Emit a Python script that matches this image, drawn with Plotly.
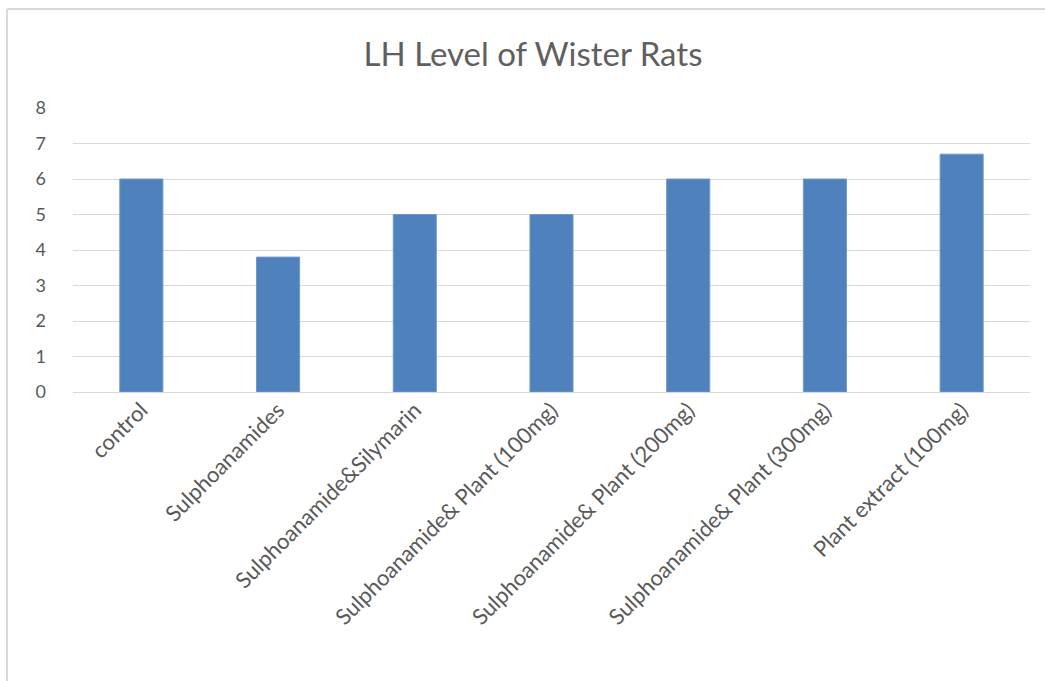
import plotly.graph_objects as go

categories = ["control", "Sulphoanamides", "Sulphoanamide&Silymarin",
              "Sulphoanamide& Plant (100mg)", "Sulphoanamide& Plant (200mg)",
              "Sulphoanamide& Plant (300mg)", "Plant extract (100mg)"]
values = [6, 3.8, 5, 5, 6, 6, 6.7]
y_ticks = [0, 1, 2, 3, 4, 5, 6, 7, 8]

W, H = 1045, 681
L, R, T, B = 73, 15, 108, 289
pw, ph = W - L - R, H - T - B

def px_x(x):
    return (x - L) / pw

def px_y(y):
    return (H - B - y) / ph

fig = go.Figure(go.Bar(
    x=categories, y=values,
    marker=dict(color="#4f81bd", line=dict(color="#6f98cc", width=1)),
    width=0.315,
))

fig.update_layout(
    width=W, height=H,
    margin=dict(l=L, r=R, t=T, b=B),
    paper_bgcolor="white", plot_bgcolor="white",
    title=dict(text="LH Level of Wister Rats", x=533 / W, xanchor="center",
               y=1 - 54 / H, yanchor="middle",
               font=dict(family="Lato", size=33, color="#5f5f5f")),
    showlegend=False,
    font=dict(family="Lato", size=22, color="#595959"),
    xaxis=dict(tickangle=-45, showgrid=False, showline=False, ticks="",
               tickfont=dict(family="Lato", size=22, color="#595959")),
    yaxis=dict(range=[0, 8], tickvals=y_ticks, showgrid=True,
               gridcolor="#d9d9d9", gridwidth=1, zeroline=True,
               zerolinecolor="#d9d9d9", zerolinewidth=1,
               ticks="", ticklabelstandoff=26,
               tickfont=dict(family="Lato", size=18, color="#595959")),
    shapes=[
        dict(type="line", xref="paper", yref="paper",
             x0=px_x(7), x1=px_x(1045), y0=px_y(9), y1=px_y(9),
             line=dict(color="#d9d9d9", width=2)),
        dict(type="line", xref="paper", yref="paper",
             x0=px_x(7), x1=px_x(7), y0=px_y(9), y1=px_y(681),
             line=dict(color="#d9d9d9", width=2)),
    ],
)

fig.write_html("out.html", config={"displayModeBar": False},
               post_script="document.body.style.margin='0';document.body.style.overflow='hidden';")
